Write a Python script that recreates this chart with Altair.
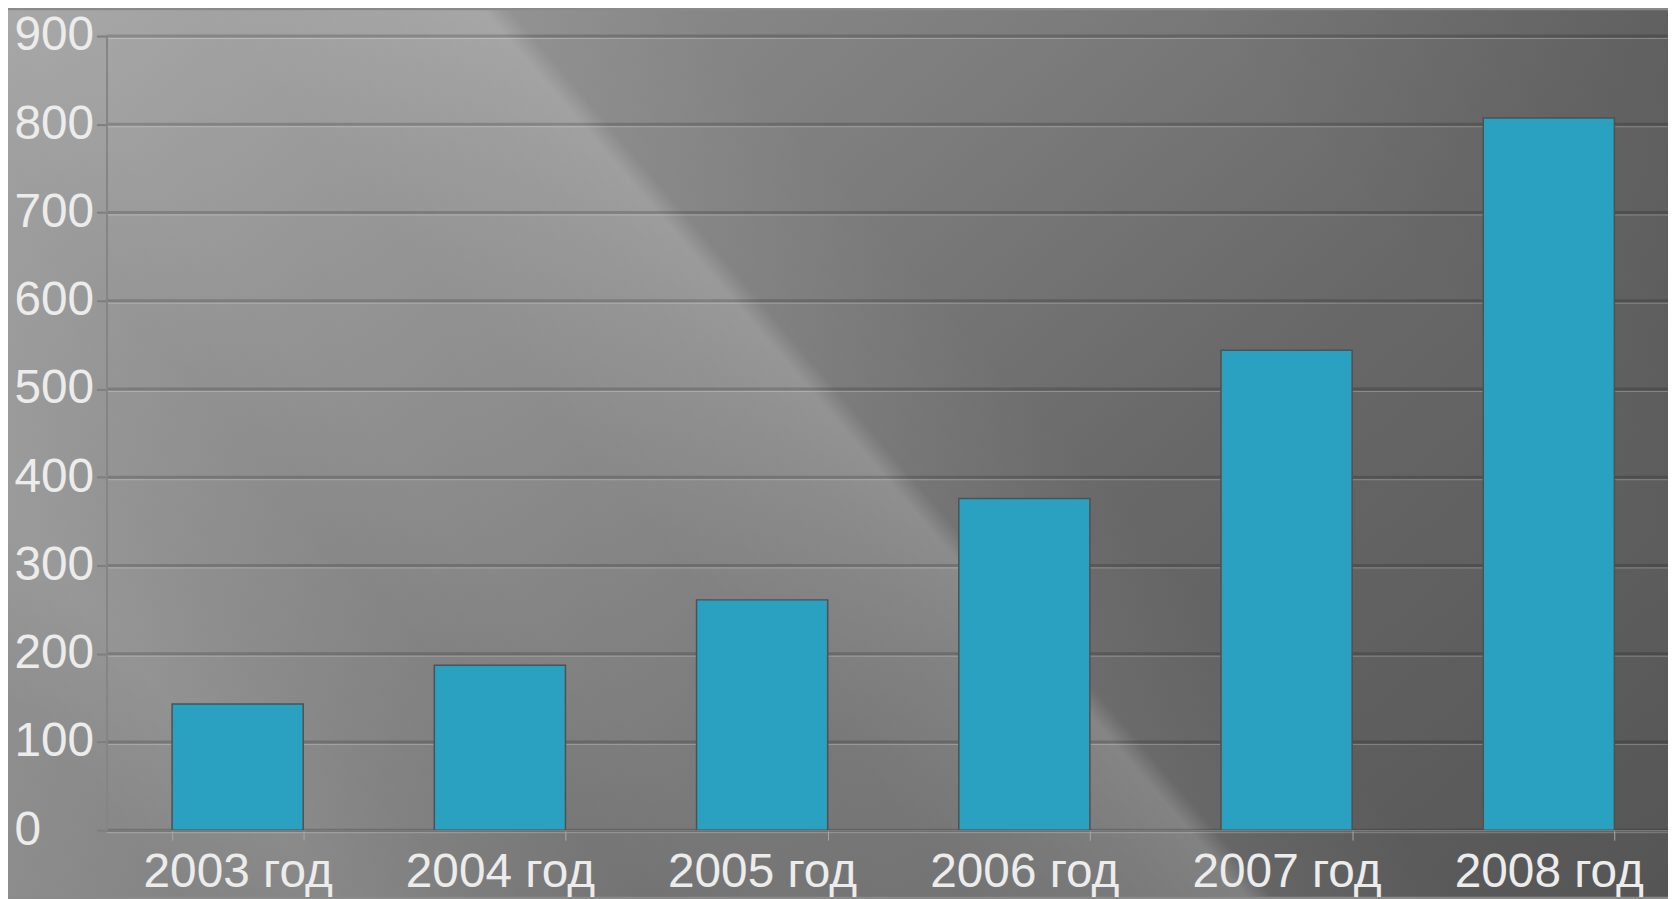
import altair as alt
import pandas as pd

years = ["2003 год", "2004 год", "2005 год", "2006 год", "2007 год", "2008 год"]
values = [143, 187, 261, 376, 544, 807]
y_ticks = [0, 100, 200, 300, 400, 500, 600, 700, 800, 900]

df = pd.DataFrame({"year": years, "value": values})
grid_df = pd.DataFrame({"value": y_ticks})
one = pd.DataFrame({"a": [0]})

FONT = "Liberation Sans"
W, H = 1569, 798
PAD = {"left": 99, "top": 26, "right": 0, "bottom": 67}

base_grad = alt.LinearGradient(
    gradient="linear", x1=0, y1=0, x2=1.17, y2=0.7265,
    stops=[
        alt.GradientStop(offset=0.0, color="#9e9e9e"),
        alt.GradientStop(offset=0.227, color="#898989"),
        alt.GradientStop(offset=0.397, color="#7c7c7c"),
        alt.GradientStop(offset=0.624, color="#686868"),
        alt.GradientStop(offset=1.0, color="#555555"),
    ],
)
streak_grad = alt.LinearGradient(
    gradient="linear", x1=0, y1=1, x2=1.2051, y2=0.4463,
    stops=[
        alt.GradientStop(offset=0.0, color="rgba(255,255,255,0.12)"),
        alt.GradientStop(offset=0.071, color="rgba(255,255,255,0.09)"),
        alt.GradientStop(offset=0.136, color="rgba(255,255,255,0.15)"),
        alt.GradientStop(offset=0.19, color="rgba(255,255,255,0.1)"),
        alt.GradientStop(offset=0.26, color="rgba(255,255,255,0.07)"),
        alt.GradientStop(offset=0.315, color="rgba(255,255,255,0.1)"),
        alt.GradientStop(offset=0.396, color="rgba(255,255,255,0.11)"),
        alt.GradientStop(offset=0.477, color="rgba(255,255,255,0.18)"),
        alt.GradientStop(offset=0.511, color="rgba(255,255,255,0.22)"),
        alt.GradientStop(offset=0.522, color="rgba(255,255,255,0.05)"),
        alt.GradientStop(offset=0.6, color="rgba(255,255,255,0.0)"),
        alt.GradientStop(offset=0.8, color="rgba(0,0,0,0.0)"),
        alt.GradientStop(offset=1.0, color="rgba(0,0,0,0.08)"),
    ],
)

full_box = dict(
    x=alt.value(-PAD["left"]), x2=alt.value(W),
    y=alt.value(-PAD["top"]), y2=alt.value(H + PAD["bottom"]),
)
bg = alt.Chart(one).mark_rect(fill=base_grad).encode(**full_box)
streaks = alt.Chart(one).mark_rect(fill=streak_grad).encode(**full_box)

yscale = alt.Scale(domain=[0, 900])
yaxis = alt.Axis(
    values=y_ticks, labelFont=FONT, labelFontSize=48, labelColor="#ececec",
    labelAlign="left", labelPadding=83, tickSize=10, tickColor="#7e7e7e", tickWidth=2,
    domainColor="#858585", domainWidth=2, grid=False, zindex=1, title=None,
)
yenc = alt.Y("value:Q", scale=yscale, axis=yaxis, title=None)

grid_dark = alt.Chart(grid_df).mark_rule(color="black", opacity=0.17, strokeWidth=3).encode(y=yenc)
grid_light = alt.Chart(grid_df).mark_rule(color="white", opacity=0.25, strokeWidth=1, yOffset=2.5).encode(y=yenc)

bars = alt.Chart(df).mark_bar(fill="#2aa1c0", stroke="#505050", strokeWidth=1.5).encode(
    x=alt.X(
        "year:N", sort=years, title=None,
        scale=alt.Scale(range=[0, 1581], paddingInner=0.5, paddingOuter=0.25),
        axis=alt.Axis(
            labelAngle=0, labelFont=FONT, labelFontSize=48, labelColor="#ececec",
            labelPadding=9, labelLimit=400, tickBand="extent", tickSize=10,
            tickColor="#a8a8a8", tickWidth=1, domainColor="#7a7a7a", domainWidth=1.5,
            grid=False, zindex=1,
        ),
    ),
    y=yenc,
)

chart = alt.layer(bg, streaks, grid_dark, grid_light, bars).properties(
    width=W, height=H,
    autosize=alt.AutoSizeParams(type="none"),
    padding=PAD,
).configure_view(stroke=None).configure(background="#8a8a8a")

chart.save("out.html", embed_options={"renderer": "svg", "actions": False})
